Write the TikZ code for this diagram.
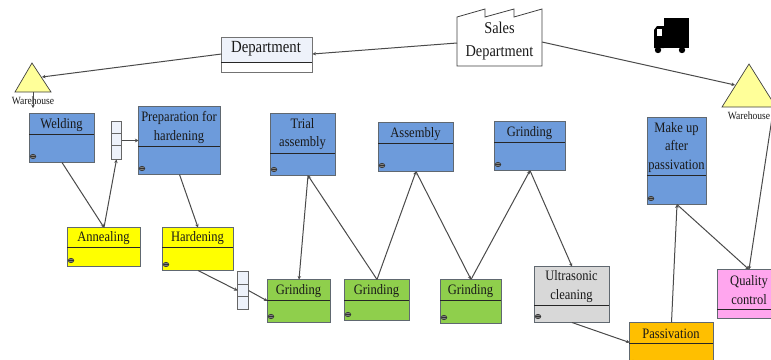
\documentclass[tikz,border=0pt]{standalone}
\usepackage{fontspec}
\setmainfont[FakeStretch=0.87]{Liberation Serif}
\usetikzlibrary{arrows.meta,calc}
\definecolor{procblue}{HTML}{6D9BDB}
\definecolor{procyellow}{HTML}{FFFF00}
\definecolor{procgreen}{HTML}{8FCF4C}
\definecolor{procgray}{HTML}{D8D8D8}
\definecolor{procorange}{HTML}{FFBF00}
\definecolor{procpink}{HTML}{FFA6EE}
\definecolor{tripale}{HTML}{FFFF99}
\definecolor{bufpale}{HTML}{EEF2FA}
\definecolor{edgegray}{HTML}{606870}
\definecolor{linkgray}{HTML}{4A4A4A}
\tikzset{
  boxshape/.style={draw=edgegray,line width=0.8pt,rectangle,inner sep=0pt,outer sep=0pt},
  boxtext/.style={font=\fontsize{14.4}{18.6}\selectfont,align=center,inner sep=0pt,text=black!90},
  divline/.style={line width=0.8pt,draw=black!85},
  link/.style={draw=linkgray,line width=1pt,-{Stealth[length=3.5pt,width=3.5pt]}},
  triangleshape/.style={draw=black!75,fill=tripale,line width=0.7pt},
  smalltext/.style={font=\fontsize{11}{12}\selectfont,inner sep=0pt,text=black!90},
}
% name, x1, y1, x2, y2, divider y, fill, text
\newcommand{\procbox}[8]{%
  \node[boxshape,fill=#7,minimum width=#4pt-#2pt,minimum height=#5pt-#3pt,anchor=north west] (#1) at ({#2+0.5},{#3+0.5}) {};
  \draw[divline] (#2,#6) -- (#4,#6);
  \node[boxtext] (#1t) at ({(#2+#4)/2},{(#3+#6)/2+1.2}) {#8};
  \draw[black!80,fill=black!50,line width=0.6pt] ({#2+4},{#5-5.5}) ellipse (2.8pt and 2.2pt);
  \draw[black!80,line width=0.6pt] ({#2+1.5},{#5-5.5}) -- ({#2+6.5},{#5-5.5});
}
% name, x1, y1, x2, y2, first divider y
\newcommand{\bufbox}[6]{%
  \node[boxshape,draw=black!60,fill=bufpale,minimum width=#4pt-#2pt,minimum height=#5pt-#3pt,anchor=north west] (#1) at ({#2+0.5},{#3+0.5}) {};
  \draw[line width=0.7pt,black!60] (#2,{#6}) -- (#4,{#6});
  \draw[line width=0.7pt,black!60] (#2,{#6+12.5}) -- (#4,{#6+12.5});
}
\begin{document}
\begin{tikzpicture}[x=1pt,y=-1pt]
\useasboundingbox (0,0) rectangle (771,359);
\clip (0,0) rectangle (771,359);

% Department
\node[boxshape,draw=black!55,fill=white,minimum width=91pt,minimum height=35pt,anchor=north west] (dept) at (221.5,37.5) {};
\fill[bufpale] (222,38) rectangle (311.5,62);
\draw[divline] (221,62) -- (312,62);
\node[font=\fontsize{17}{19}\selectfont,inner sep=0pt,text=black!90] (deptt) at (266,49) {Department};

% Sales department
\node[rectangle,inner sep=0pt,outer sep=0pt,minimum width=85pt,minimum height=49pt,anchor=north west] (sales) at (457,17) {};
\draw[black!75,line width=0.8pt,fill=white] (457,66) -- (457,17) -- (485,9) -- (485,17) -- (514,9) -- (514,17) -- (542,9) -- (542,66) -- cycle;
\node[font=\fontsize{16.5}{23}\selectfont,align=center,inner sep=0pt,text=black!90] (salest) at (499.5,41) {Sales\\Department};

% Truck
\fill[black] (664,18) rectangle (689,48);
\fill[black] (654,48) -- (654,30) -- (657,26) -- (664,26) -- (664,48) -- cycle;
\fill[white] (657,29) rectangle (661.5,36);
\fill[black] (658,50) circle (3.2pt);
\fill[black] (682,50) circle (3.2pt);

% Warehouses
\draw[triangleshape] (32,63) -- (51,92) -- (15,92) -- cycle;
\coordinate (wlright) at (42,77);
\coordinate (wlbottom) at (33,92);
\node[smalltext] (wltext) at (33,101) {Warehouse};
\draw[triangleshape] (749,64) -- (776,107) -- (722,107) -- cycle;
\coordinate (wrleft) at (735,85);
\coordinate (wrbottom) at (772,118);
\node[smalltext] (wrtext) at (749,116) {Warehouse};

% Process boxes
\procbox{weld}{29}{113}{94}{162}{134}{procblue}{Welding}
\procbox{prep}{138}{106}{220}{174}{146}{procblue}{Preparation for\\hardening}
\procbox{trial}{270}{113}{335}{175}{153}{procblue}{Trial\\assembly}
\procbox{assem}{378}{122}{453}{171}{143}{procblue}{Assembly}
\procbox{grtop}{494}{121}{565}{170}{142}{procblue}{Grinding}
\procbox{makeup}{647}{117}{706}{204}{175}{procblue}{Make up\\after\\passivation}
\procbox{anneal}{67}{227}{140}{266}{247}{procyellow}{Annealing}
\procbox{harden}{162}{227}{233}{270}{247}{procyellow}{Hardening}
\procbox{gra}{267}{279}{330}{322}{300}{procgreen}{Grinding}
\procbox{grb}{344}{279}{409}{320}{300}{procgreen}{Grinding}
\procbox{grc}{440}{279}{501}{323}{300}{procgreen}{Grinding}
\procbox{ultra}{534}{266}{609}{322}{305}{procgray}{Ultrasonic\\cleaning}
\procbox{passiv}{629}{322}{713}{368}{343}{procorange}{Passivation}
\node[boxshape,fill=procpink,minimum width=64pt,minimum height=49pt,anchor=north west] (qual) at (717.5,269.5) {};
\draw[divline] (717,309) -- (781,309);
\node[boxtext] (qualt) at (749,290) {Quality\\control};

% Buffers
\bufbox{bufa}{111}{121}{121}{159}{133}
\bufbox{bufb}{237}{271}{248}{309}{284}

% Connectors
\draw[link] (sales.west |- 0,43) -- (dept.east |- 0,54);
\draw[link] (dept.west |- 0,54) -- (wlright);
\draw[link] (sales.east |- 0,42) -- (wrleft);
\draw[link] (wlbottom) -- ($(wlbottom)+(0,16)$);
\draw[link] (weld.south) -- (anneal.north);
\draw[link] (anneal.north) -- (bufa.south);
\draw[link] (bufa.east) -- (bufa.east -| prep.west);
\draw[link] (prep.south) -- (harden.north);
\draw[link] (harden.south) -- (bufb.west);
\draw[link] (bufb.east) -- (gra.west);
\draw[link] ($(trial.south)+(5,0)$) -- (gra.north);
\draw[link] (grb.north) -- ($(trial.south)+(5,0)$);
\draw[link] (grb.north) -- (assem.south);
\draw[link] (assem.south) -- (grc.north);
\draw[link] (grc.north) -- (grtop.south);
\draw[link] (grtop.south) -- (ultra.north);
\draw[link] (ultra.south) -- ($(passiv.north west)+(0,20)$);
\draw[link] (passiv.north) -- (makeup.south);
\draw[link] (makeup.south) -- (qualt.north |- qual.north);
\draw[link] (wrbottom) -- (qualt.north |- qual.north);
\end{tikzpicture}
\end{document}
